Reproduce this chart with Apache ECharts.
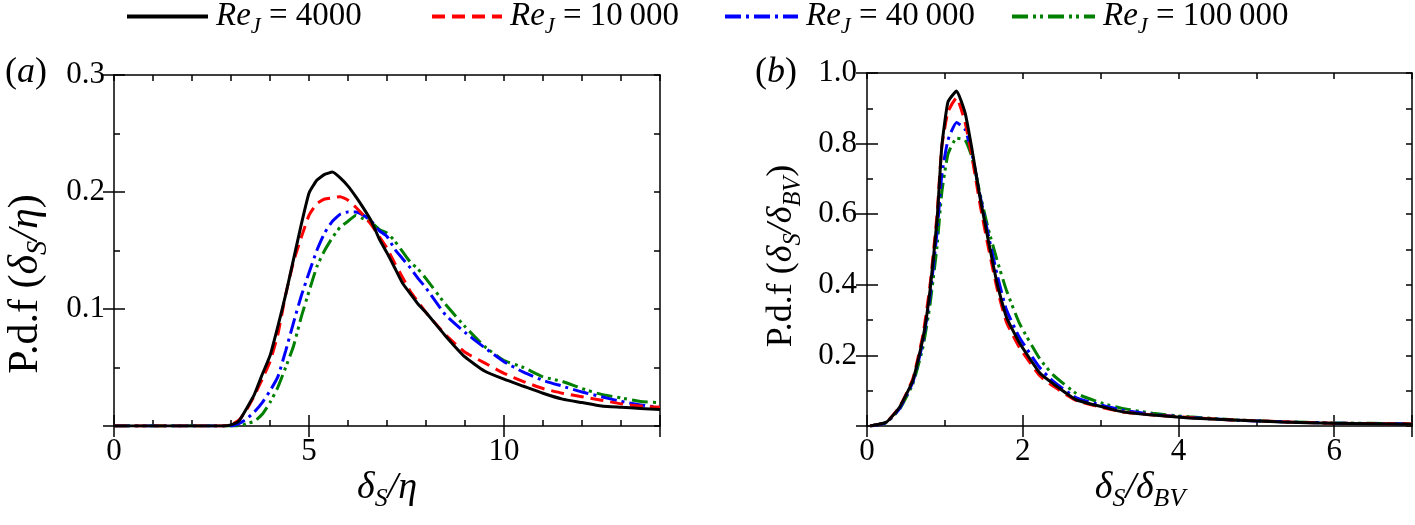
<!DOCTYPE html>
<html>
<head>
<meta charset="utf-8">
<script src="https://cdn.jsdelivr.net/npm/echarts@6/dist/echarts.min.js"></script>
<style>
  html, body { margin: 0; padding: 0; background: #fff; }
  #chart { width: 1415px; height: 525px; }
</style>
</head>
<body>
<div id="chart"></div>
<script>
// series names / colours / dash patterns
const names = ['4000', '10\u2009000', '40\u2009000', '100\u2009000'];
const colors = ['#000000', '#ff0000', '#0000ff', '#008000'];
const dashes = ['solid', [13, 7], [16, 5, 3, 5], [16, 5, 3, 4, 3, 5]];

// panel (a): pdf of delta_S / eta
const xA = [0, 1, 2, 2.8, 3.0, 3.2, 3.4, 3.6, 3.8, 4.0, 4.2, 4.4, 4.6, 4.8, 5.0, 5.2, 5.4, 5.6, 5.8, 6.0,
  6.2, 6.4, 6.6, 6.8, 7.0, 7.2, 7.4, 7.6, 7.8, 8.0, 8.5, 9.0, 9.5, 10, 10.5, 11, 11.5, 12, 12.5, 13, 13.5, 14];
const a4000 = [0, 0, 0, 0, 0.001, 0.004, 0.015, 0.027, 0.044, 0.060, 0.085, 0.112, 0.142, 0.172, 0.199, 0.210, 0.215, 0.217, 0.212, 0.205,
  0.196, 0.186, 0.175, 0.160, 0.148, 0.135, 0.122, 0.113, 0.104, 0.097, 0.077, 0.059, 0.047, 0.040, 0.034, 0.028, 0.023, 0.020, 0.017, 0.016, 0.015, 0.014];
const a10000 = [0, 0, 0, 0, 0.001, 0.005, 0.014, 0.026, 0.040, 0.055, 0.078, 0.112, 0.140, 0.161, 0.180, 0.190, 0.194, 0.195, 0.196, 0.193,
  0.187, 0.180, 0.172, 0.162, 0.152, 0.139, 0.127, 0.115, 0.106, 0.097, 0.078, 0.063, 0.054, 0.045, 0.038, 0.032, 0.028, 0.025, 0.022, 0.019, 0.017, 0.016];
const a40000 = [0, 0, 0, 0, 0, 0.002, 0.006, 0.012, 0.020, 0.030, 0.042, 0.064, 0.088, 0.111, 0.131, 0.150, 0.165, 0.175, 0.181, 0.183,
  0.183, 0.180, 0.175, 0.167, 0.162, 0.151, 0.143, 0.135, 0.126, 0.118, 0.095, 0.080, 0.067, 0.055, 0.046, 0.039, 0.034, 0.029, 0.025, 0.021, 0.018, 0.016];
const a100000 = [0, 0, 0, 0, 0, 0, 0.002, 0.004, 0.010, 0.020, 0.033, 0.050, 0.068, 0.093, 0.115, 0.136, 0.150, 0.161, 0.170, 0.175,
  0.180, 0.177, 0.174, 0.168, 0.165, 0.158, 0.149, 0.140, 0.134, 0.126, 0.104, 0.085, 0.068, 0.056, 0.050, 0.042, 0.038, 0.032, 0.027, 0.024, 0.021, 0.020];

// panel (b): pdf of delta_S / delta_BV
const xB = [0.04, 0.25, 0.42, 0.59, 0.72, 0.81, 0.9, 0.96, 1.04, 1.15, 1.26, 1.35, 1.45, 1.55, 1.67, 1.79, 1.96,
  2.22, 2.39, 2.69, 3.03, 3.28, 3.67, 4.14, 4.7, 5.33, 5.97, 7.0];
const b4000 = [0, 0.011, 0.054, 0.130, 0.250, 0.385, 0.584, 0.790, 0.918, 0.949, 0.887, 0.782, 0.649, 0.535, 0.405, 0.309, 0.235,
  0.150, 0.120, 0.074, 0.054, 0.040, 0.031, 0.023, 0.017, 0.011, 0.008, 0.005];
const b10000 = [0, 0.011, 0.055, 0.135, 0.260, 0.400, 0.600, 0.790, 0.890, 0.930, 0.860, 0.760, 0.630, 0.515, 0.390, 0.295, 0.222,
  0.142, 0.113, 0.072, 0.052, 0.040, 0.031, 0.024, 0.017, 0.012, 0.008, 0.006];
const b40000 = [0, 0.010, 0.050, 0.125, 0.240, 0.370, 0.550, 0.710, 0.810, 0.860, 0.840, 0.770, 0.655, 0.550, 0.430, 0.330, 0.250,
  0.165, 0.127, 0.080, 0.058, 0.045, 0.033, 0.024, 0.017, 0.012, 0.008, 0.006];
const b100000 = [0, 0.010, 0.048, 0.120, 0.225, 0.345, 0.510, 0.660, 0.770, 0.815, 0.810, 0.760, 0.660, 0.565, 0.470, 0.385, 0.290,
  0.190, 0.145, 0.092, 0.064, 0.050, 0.036, 0.026, 0.018, 0.012, 0.009, 0.006];

const seriesA = [a4000, a10000, a40000, a100000];
const seriesB = [b4000, b10000, b40000, b100000];

const FONT = "'Liberation Serif', 'Times New Roman', Times, serif";

function mathRich(size) {
  return {
    r: { fontFamily: FONT, fontSize: size, color: '#000', lineHeight: size * 1.3, verticalAlign: 'middle' },
    i: { fontFamily: FONT, fontSize: size, fontStyle: 'italic', color: '#000', lineHeight: size * 1.3, verticalAlign: 'middle' },
    s: { fontFamily: FONT, fontSize: size * 0.68, fontStyle: 'italic', color: '#000', lineHeight: size * 0.45, verticalAlign: 'bottom' }
  };
}

function zip(xs, ys) {
  return xs.map((x, i) => [x, ys[i]]);
}

function axis(gridIndex, position, min, max, step, tickLen, extra) {
  return Object.assign({
    type: 'value', gridIndex: gridIndex, position: position,
    min: min, max: max, interval: step,
    axisLine: { show: true, onZero: false, lineStyle: { color: '#000', width: 1.5 } },
    axisTick: { show: true, inside: true, length: tickLen, lineStyle: { color: '#000', width: 1.5 } },
    axisLabel: { show: false },
    splitLine: { show: false }
  }, extra || {});
}

const labelStyle = { fontFamily: FONT, fontSize: 31, color: '#000' };

const xAxes = [
  // panel a
  axis(0, 'bottom', 0, 14, 1, 6),
  axis(0, 'bottom', 0, 14, 5, 11, { axisLine: { show: false }, axisLabel: Object.assign({ show: true, margin: 10, formatter: v => (v % 5 === 0 ? String(v) : '') }, labelStyle) }),
  axis(0, 'top', 0, 14, 1, 6),
  axis(0, 'top', 0, 14, 5, 11, { axisLine: { show: false } }),
  // panel b
  axis(1, 'bottom', 0, 7, 1, 6),
  axis(1, 'bottom', 0, 7, 2, 11, { axisLine: { show: false }, axisLabel: Object.assign({ show: true, margin: 10, formatter: v => (v % 2 === 0 ? String(v) : '') }, labelStyle) }),
  axis(1, 'top', 0, 7, 1, 6),
  axis(1, 'top', 0, 7, 2, 11, { axisLine: { show: false } })
];

const yAxes = [
  axis(0, 'left', 0, 0.3, 0.05, 6),
  axis(0, 'left', 0, 0.3, 0.1, 11, { axisLine: { show: false }, axisLabel: Object.assign({ show: true, margin: 9, formatter: v => (v < 1e-6 ? '' : v.toFixed(1)) }, labelStyle) }),
  axis(0, 'right', 0, 0.3, 0.05, 6),
  axis(0, 'right', 0, 0.3, 0.1, 11, { axisLine: { show: false } }),
  axis(1, 'left', 0, 1, 0.1, 6),
  axis(1, 'left', 0, 1, 0.2, 11, { axisLine: { show: false }, axisLabel: Object.assign({ show: true, margin: 10, formatter: v => (v < 1e-6 ? '' : v.toFixed(1)) }, labelStyle) }),
  axis(1, 'right', 0, 1, 0.1, 6),
  axis(1, 'right', 0, 1, 0.2, 11, { axisLine: { show: false } })
];

const series = [];
names.forEach((n, k) => {
  const common = {
    type: 'line', name: n, symbol: 'none', showSymbol: false, smooth: 0.15,
    lineStyle: { color: colors[k], width: 3, type: dashes[k] },
    itemStyle: { color: colors[k] },
    z: 10 - k
  };
  series.push(Object.assign({ xAxisIndex: 0, yAxisIndex: 0, data: zip(xA, seriesA[k]) }, common));
  series.push(Object.assign({ xAxisIndex: 4, yAxisIndex: 4, data: zip(xB, seriesB[k]) }, common));
});

const legendLeft = [125, 430, 723, 1010];
const legendWidth = [81, 70, 73, 83];
const legends = names.map((n, k) => ({
  data: [n], left: legendLeft[k], top: 0, padding: 0,
  itemWidth: legendWidth[k], itemHeight: 14, itemGap: 0,
  selectedMode: false,
  itemStyle: { opacity: 0 },
  lineStyle: { width: 4 },
  formatter: name => '{i|Re}{s|J}{r| = ' + name + '}',
  textStyle: { rich: mathRich(33), padding: [0, 0, 0, 3] }
}));

function gText(x, y, text, size, rot) {
  return {
    type: 'text', x: x, y: y, rotation: rot || 0,
    style: { text: text, rich: mathRich(size), align: 'center', verticalAlign: 'middle', fill: '#000', font: size + 'px ' + FONT }
  };
}

const chart = echarts.init(document.getElementById('chart'), null, { renderer: 'canvas' });
chart.setOption({
  backgroundColor: '#ffffff',
  animation: false,
  legend: legends,
  grid: [
    { left: 114, right: 755, top: 75, bottom: 99 },
    { left: 867, right: 2, top: 73, bottom: 99 }
  ],
  xAxis: xAxes,
  yAxis: yAxes,
  series: series,
  graphic: [
    gText(26, 73, '{r|(}{i|a}{r|)}', 36),
    gText(776, 73, '{r|(}{i|b}{r|)}', 36),
    gText(26, 284, '{r|P.d.f (}{i|δ}{s|S}{i|/η}{r|)}', 42, Math.PI / 2),
    gText(782, 256, '{r|P.d.f (}{i|δ}{s|S}{i|/δ}{s|BV}{r|)}', 36, Math.PI / 2),
    gText(387, 488, '{i|δ}{s|S}{i|/η}', 38),
    gText(1140, 488, '{i|δ}{s|S}{i|/δ}{s|BV}', 38)
  ]
});
</script>
</body>
</html>
